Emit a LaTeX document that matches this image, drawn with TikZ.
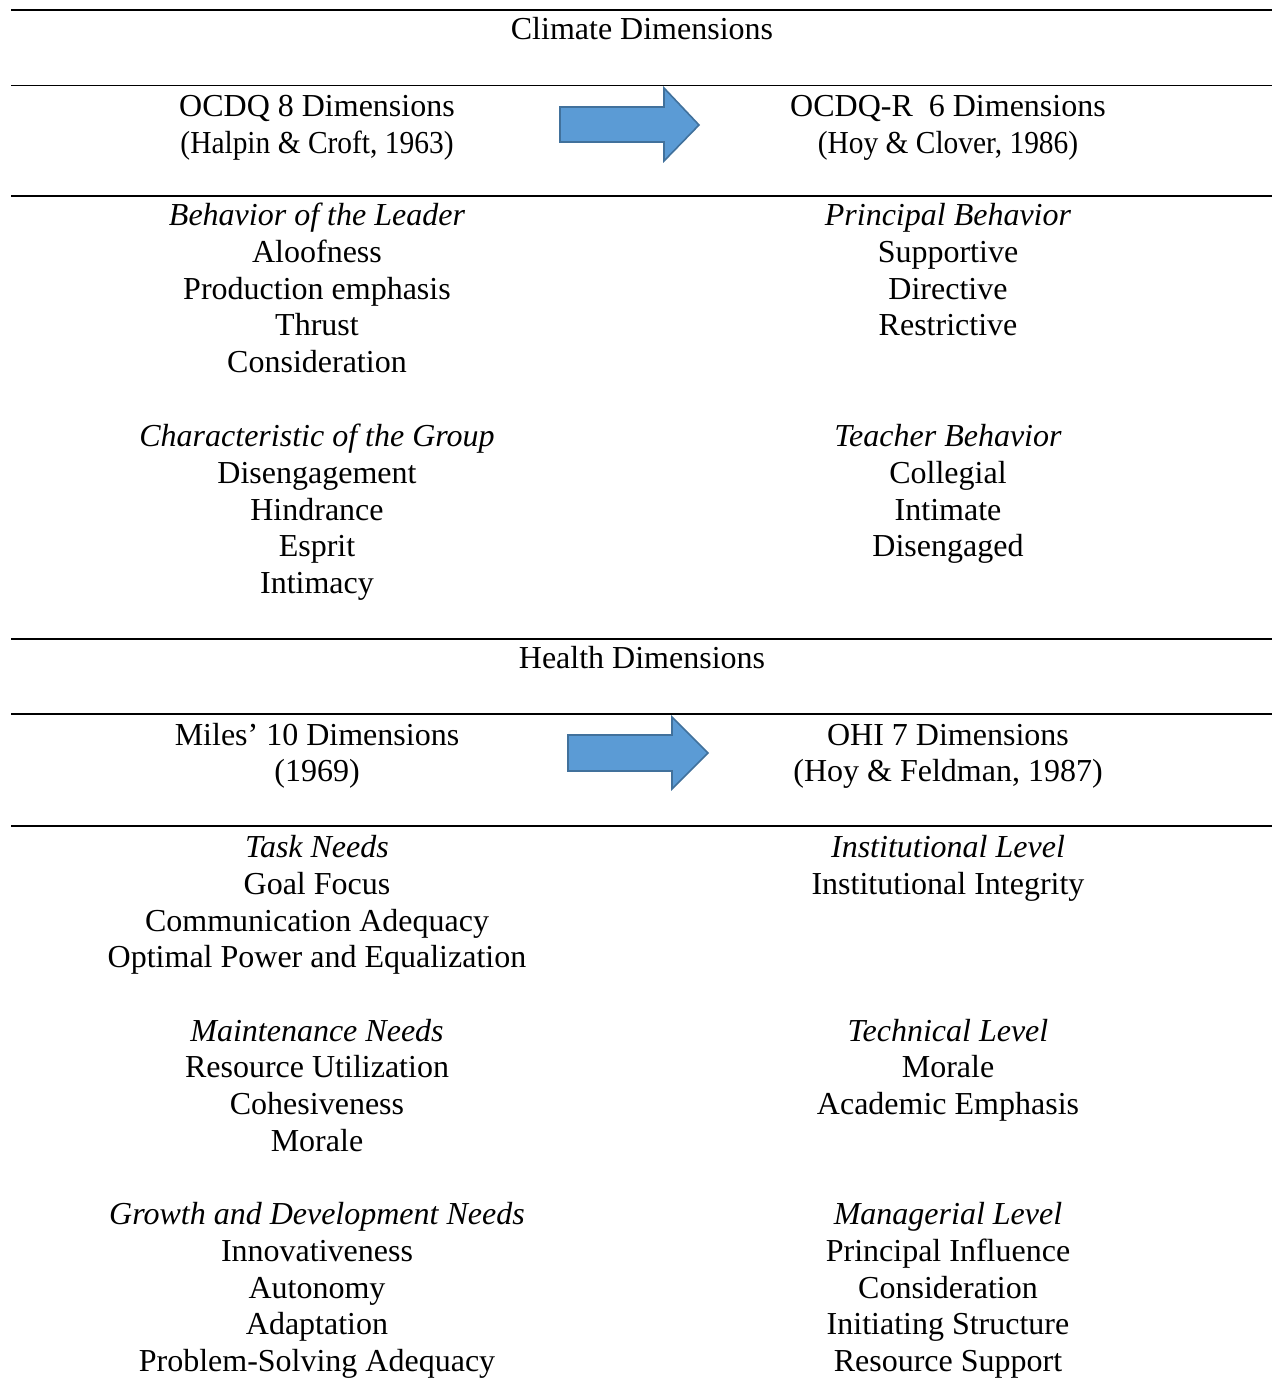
\documentclass[tikz,border=0pt]{standalone}
\usepackage{fontspec}
\setmainfont{Liberation Serif}
\begin{document}
\begin{tikzpicture}[x=1pt,y=-1pt,
  txt/.style={anchor=base,inner sep=0pt,font=\fontsize{32}{36.8}\selectfont},
  rule/.style={line width=1.5pt,black},
  bigarrow/.style={fill=arrowfill,draw=arrowline,line width=1.6pt,line join=miter}]
\definecolor{arrowfill}{HTML}{5B9BD5}
\definecolor{arrowline}{HTML}{41719C}
\useasboundingbox (0,0) rectangle (1272,1378);
% rules
\foreach \yy/\nm in {10/r1,85.5/r2,196/r3,639/r4,714/r5,826/r6}{
  \coordinate (\nm a) at (11,\yy);
  \coordinate (\nm b) at (1272,\yy);
  \draw[rule] (\nm a) -- (\nm b);
}
% text blocks: name / x / first baseline / lines
\foreach \nm/\xx/\yy/\lines in {
  ct/642/40/{Climate Dimensions},
  ocdq/317/116.5/{OCDQ 8 Dimensions,{\scalebox{0.92}[1]{(Halpin \& Croft, 1963)}}},
  ocdqr/948/116.5/{OCDQ-R\ \ 6 Dimensions,{\scalebox{0.92}[1]{(Hoy \& Clover, 1986)}}},
  bl/317/225.5/{\textit{Behavior of the Leader},Aloofness,Production emphasis,Thrust,Consideration},
  cg/317/446.5/{\textit{Characteristic of the Group},Disengagement,Hindrance,Esprit,Intimacy},
  pb/948/225.5/{\textit{Principal Behavior},Supportive,Directive,Restrictive},
  tb/948/446.5/{\textit{Teacher Behavior},Collegial,Intimate,Disengaged},
  ht/642/668.5/{Health Dimensions},
  miles/317/745/{Miles’ 10 Dimensions,(1969)},
  ohi/948/745/{OHI 7 Dimensions,{(Hoy \& Feldman, 1987)}},
  tn/317/857.5/{\textit{Task Needs},Goal Focus,Communication Adequacy,Optimal Power and Equalization},
  mn/317/1041/{\textit{Maintenance Needs},Resource Utilization,Cohesiveness,Morale},
  gn/317/1224.5/{\textit{Growth and Development Needs},Innovativeness,Autonomy,Adaptation,Problem-Solving Adequacy},
  il/948/857.5/{\textit{Institutional Level},Institutional Integrity},
  tl/948/1041/{\textit{Technical Level},Morale,Academic Emphasis},
  ml/948/1224.5/{\textit{Managerial Level},Principal Influence,Consideration,Initiating Structure,Resource Support}}{
  \foreach [count=\i from 0] \t in \lines {
    \node[txt] (\nm\i) at (\xx,\yy+36.75*\i) {\t};
  }
}
% arrows
\draw[bigarrow] (560,107) -- (664,107) -- (664,88) -- (699,125) -- (664,161) -- (664,142) -- (560,142) -- cycle;
\draw[bigarrow] (568,735) -- (672,735) -- (672,717) -- (708,753) -- (672,789) -- (672,771) -- (568,771) -- cycle;
\end{tikzpicture}
\end{document}
